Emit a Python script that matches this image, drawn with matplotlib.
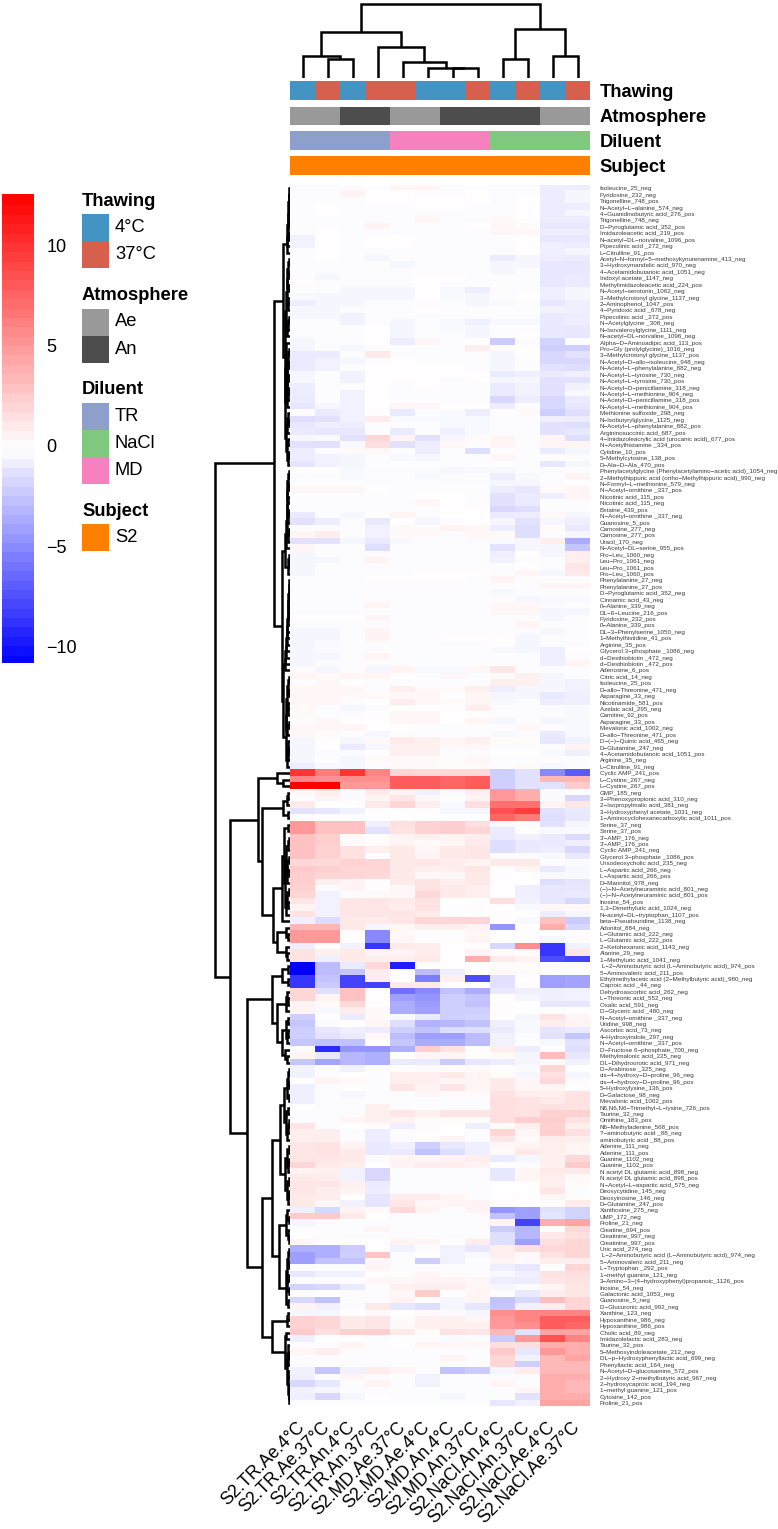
import numpy as np
import matplotlib
matplotlib.use('Agg')
import matplotlib.pyplot as plt
from matplotlib.colors import LinearSegmentedColormap, Normalize, ListedColormap
from matplotlib.cm import ScalarMappable
from matplotlib.patches import Rectangle

plt.rcParams['font.family'] = ['Liberation Sans', 'DejaVu Sans']

W, H = 778, 1529

col_labels = ['S2.TR.Ae.4°C', 'S2.TR.Ae.37°C', 'S2.TR.An.4°C', 'S2.TR.An.37°C',
              'S2.MD.Ae.37°C', 'S2.MD.Ae.4°C', 'S2.MD.An.4°C', 'S2.MD.An.37°C',
              'S2.NaCl.An.4°C', 'S2.NaCl.An.37°C', 'S2.NaCl.Ae.4°C', 'S2.NaCl.Ae.37°C']
thawing = ['4°C', '37°C', '4°C', '37°C', '37°C', '4°C', '4°C', '37°C', '4°C', '37°C', '4°C', '37°C']
atmosphere = ['Ae', 'Ae', 'An', 'An', 'Ae', 'Ae', 'An', 'An', 'An', 'An', 'Ae', 'Ae']
diluent = ['TR'] * 4 + ['MD'] * 4 + ['NaCl'] * 4
subject = ['S2'] * 12

thawing_colors = {'4°C': '#4393C3', '37°C': '#D6604D'}
atmosphere_colors = {'Ae': '#999999', 'An': '#4D4D4D'}
diluent_colors = {'TR': '#8DA0CB', 'NaCl': '#7FC97F', 'MD': '#F781BF'}
subject_colors = {'S2': '#FF7F00'}

row_labels = """Isoleucine_25_neg
Pyridoxine_232_neg
Trigonelline_748_pos
N-Acetyl-L-alanine_574_neg
4-Guanidinobutyric acid_276_pos
Trigonelline_748_neg
D-Pyroglutamic acid_352_pos
Imidazoleacetic acid_219_pos
N-acetyl-DL-norvaline_1096_pos
Pipecolinic acid _272_neg
L-Citrulline_91_pos
Acetyl-N-formyl-5-methoxykynurenamine_413_neg
3-Hydroxymandelic acid_970_neg
4-Acetamidobutanoic acid_1051_neg
Indoxyl acetate_1147_neg
Methylimidazoleacetic acid_224_pos
N-Acetyl-serotonin_1062_neg
3-Methylcrotonyl glycine_1137_neg
2-Aminophenol_1047_pos
4-Pyridoxic acid _678_neg
Pipecolinic acid _272_pos
N-Acetylglycine _308_neg
N-Isovaleroylglycine_1111_neg
N-acetyl-DL-norvaline_1096_neg
Alpha-D-Aminoadipic acid_113_pos
Pro-Gly (prolylglycine)_1016_neg
3-Methylcrotonyl glycine_1137_pos
N-Acetyl-D-allo-isoleucine_948_neg
N-Acetyl-L-phenylalanine_882_neg
N-Acetyl-L-tyrosine_730_neg
N-Acetyl-L-tyrosine_730_pos
N-Acetyl-D-penicillamine_318_neg
N-Acetyl-L-methionine_904_neg
N-Acetyl-D-penicillamine_318_pos
N-Acetyl-L-methionine_904_pos
Methionine sulfoxide_298_neg
N-Isobutyrylglycine_1125_neg
N-Acetyl-L-phenylalanine_882_pos
Argininosuccinic acid_687_pos
4-Imidazoleacrylic acid (urocanic acid)_677_pos
N-Acetylhistamine _334_pos
Cytidine_10_pos
5-Methylcytosine_138_pos
D-Ala-D-Ala_470_pos
Phenylacetylglycine (Phenylacetylamino-acetic acid)_1054_neg
2-Methylhippuric acid (ortho-Methylhippuric acid)_990_neg
N-Formyl-L-methionine_579_neg
N-Acetyl-ornithine _337_pos
Nicotinic acid_115_pos
Nicotinic acid_115_neg
Betaine_439_pos
N-Acetyl-ornithine _337_neg
Guanosine_5_pos
Carnosine_277_neg
Carnosine_277_pos
Uracil_170_neg
N-Acetyl-DL-serine_955_pos
Pro-Leu_1060_neg
Leu-Pro_1061_neg
Leu-Pro_1061_pos
Pro-Leu_1060_pos
Phenylalanine_27_neg
Phenylalanine_27_pos
D-Pyroglutamic acid_352_neg
Cinnamic acid_43_neg
ß-Alanine_339_neg
DL-ß-Leucine_216_pos
Pyridoxine_232_pos
ß-Alanine_339_pos
DL-3-Phenylserine_1050_neg
1-Methylhistidine_41_pos
Arginine_35_pos
Glycerol 3-phosphate _1086_neg
d-Desthiobiotin _472_neg
d-Desthiobiotin _472_pos
Adenosine_6_pos
Citric acid_14_neg
Isoleucine_25_pos
D-allo-Threonine_471_neg
Asparagine_33_neg
Nicotinamide_581_pos
Azelaic acid_295_neg
Carnitine_92_pos
Asparagine_33_pos
Mevalonic acid_1002_neg
D-allo-Threonine_471_pos
D-(-)-Quinic acid_465_neg
D-Glutamine_247_neg
4-Acetamidobutanoic acid_1051_pos
Arginine_35_neg
L-Citrulline_91_neg
Cyclic AMP_241_pos
L-Cystine_267_neg
L-Cystine_267_pos
GMP_185_neg
3-Phenoxypropionic acid_310_neg
2-Isopropylmalic acid_381_neg
3-Hydroxyphenyl acetate_1031_neg
1-Aminocyclohexanecarboxylic acid_1011_pos
Serine_37_neg
Serine_37_pos
3'-AMP_176_neg
3'-AMP_176_pos
Cyclic AMP_241_neg
Glycerol 3-phosphate _1086_pos
Ursodeoxycholic acid_235_neg
L-Aspartic acid_266_neg
L-Aspartic acid_266_pos
D-Mannitol_978_neg
(-)-N-Acetylneuraminic acid_801_neg
(-)-N-Acetylneuraminic acid_801_pos
Inosine_54_pos
1,3-Dimethyluric acid_1024_neg
N-acetyl-DL-tryptophan_1107_pos
beta-Pseudouridine_1138_neg
Adonitol_884_neg
L-Glutamic acid_222_neg
L-Glutamic acid_222_pos
2-Ketohexanoic acid_1143_neg
Alanine_29_neg
1-Methyluric acid_1041_neg
 L-2-Aminobutyric acid (L-Aminobutyric acid)_974_pos
5-Aminovaleric acid_211_pos
Ethylmethylacetic acid (2-Methylbutyric acid)_980_neg
Caproic acid _44_neg
Dehydroascorbic acid_262_neg
L-Threonic acid_552_neg
Oxalic acid_591_neg
D-Glyceric acid _480_neg
N-Acetyl-ornithine _337_neg
Uridine_998_neg
Ascorbic acid_73_neg
4-Hydroxyindole_297_neg
N-Acetyl-ornithine _337_pos
D-Fructose 6-phosphate_700_neg
Methylmalonic acid_225_neg
DL-Dihydroorotic acid_971_neg
D-Arabinose _325_neg
cis-4-hydroxy-D-proline_96_neg
cis-4-hydroxy-D-proline_96_pos
5-Hydroxylysine_136_pos
D-Galactose_98_neg
Mevalonic acid_1002_pos
N6,N6,N6-Trimethyl-L-lysine_726_pos
Taurine_32_neg
Ornithine_183_pos
N6-Methyladenine_568_pos
?-aminobutyric acid _88_neg
aminobutyric acid _88_pos
Adenine_111_neg
Adenine_111_pos
Guanine_1102_neg
Guanine_1102_pos
N acetyl DL glutamic acid_898_neg
N acetyl DL glutamic acid_898_pos
N-Acetyl-L-aspartic acid_575_neg
Deoxycytidine_145_neg
Deoxyinosine_146_neg
D-Glutamine_247_pos
Xanthosine_275_neg
UMP_172_neg
Proline_21_neg
Creatine_694_pos
Creatinine_997_neg
Creatinine_997_pos
Uric acid_274_neg
 L-2-Aminobutyric acid (L-Aminobutyric acid)_974_neg
5-Aminovaleric acid_211_neg
L-Tryptophan _292_pos
1-methyl guanine_121_neg
3-Amino-3-(4-hydroxyphenyl)propanoic_1126_pos
Inosine_54_neg
Galactonic acid_1053_neg
Guanosine_5_neg
D-Glucuronic acid_992_neg
Xanthine_123_neg
Hypoxanthine_986_neg
Hypoxanthine_986_pos
Cholic acid_89_neg
Imidazolelactic acid_283_neg
Taurine_32_pos
5-Methoxyindoleacetate_212_neg
DL-p-Hydroxyphenyllactic acid_699_neg
Phenyllactic acid_164_neg
N-Acetyl-D-glucosamine_572_pos
2-Hydroxy 2-methylbutyric acid_967_neg
2-hydroxycaproic acid_194_neg
1-methyl guanine_121_pos
Cytosine_142_pos
Proline_21_pos""".split('\n')

values_a = [
 [-.1,-.1,-.1,-.1,.5,.5,-.1,-.1,-.1,-.1,-.7,-.7],
 [-.1,-.1,.6,.1,.1,-.1,-.1,.1,-.1,-.1,-.7,-.4],
 [-.1,-.1,-.1,.1,.1,.1,.1,.1,-.1,.1,-.7,-.4],
 [-.1,.1,-.1,-.1,-.1,.1,.1,-.1,-.1,.1,-.7,-.7],
 [-.1,.1,-.1,-.1,-.1,-.1,-.1,-.1,-.1,.1,-.7,-.4],
 [-.1,-.1,-.1,-.1,-.1,.5,-.1,-.1,.3,.1,-.7,-.7],
 [-.1,-.1,-.1,.6,-.1,-.1,-.1,.1,.4,.3,-1.,-1.],
 [-.1,.1,-.1,-.1,-.1,-.1,-.1,-.1,.4,.4,-.7,-.7],
 [-.5,.1,-.1,.1,.1,-.1,-.1,-.1,-.1,.1,-1.,-1.],
 [-.5,.1,-.1,.1,.1,-.1,-.1,-.1,-.1,.1,-.6,-.7],
 [-.1,.1,-.1,-.1,-.1,-.1,-.1,-.1,-.1,.1,-.6,-.4],
 [-.1,.1,-.1,-.4,-.1,-.1,-.1,-.1,-.8,-.4,-.7,-.8],
 [-.1,-.1,-.1,-.1,-.4,-.1,-.1,-.1,-.4,-.4,-1.,-1.],
 [-.1,-.1,-.1,-.1,-.1,-.1,-.1,-.1,-.4,-.1,-1.,-1.],
 [-.1,-.4,-.1,-.1,-.1,.1,.1,-.1,-.1,-.1,-1.,-.8],
 [.1,-.1,-.1,-.1,-.1,.1,-.1,-.1,-.1,-.1,-1.,-.8],
 [-.1,-.1,-.4,-.4,-.4,.1,-.3,-.7,-.1,-.1,-.6,-.4],
 [-.3,-.4,-.4,-.4,-.4,.1,-.3,-.4,-.1,.1,-.6,-.4],
 [-.7,-.4,-.4,-.1,-.1,-.1,-.1,-.4,-.3,-.1,-1.,-.6],
 [-.4,-.4,-.1,-.1,-.1,.1,-.1,-.1,-.1,-.1,-.5,-.6],
 [-.4,-.4,-.5,-.1,-.1,-.1,-.1,-.1,-.1,-.1,-.9,-.7],
 [-.1,-.1,-.5,-.1,-.4,-.1,-.3,-.6,-.3,-.3,-.9,-.7],
 [-.1,-.1,-.1,.1,-.4,-.1,-.3,-.4,-.1,-.1,-.9,-1.],
 [-.1,-.1,-.1,.1,-.4,-.1,-.1,-.4,-.1,.1,-.9,-1.],
 [-.4,-.1,-.1,.1,-.7,.5,-.1,.1,-2.2,-.1,-1.8,-.1],
 [-.4,-.1,-.4,-.1,-.1,-.1,-.1,.8,-.1,.1,-2.,-2.],
 [-.8,-.8,-.1,1.,-.1,-.1,-.1,-.1,-.4,.1,-1.6,-1.2],
 [-.8,-.5,-.4,-.1,.1,-.1,-.1,-.1,-.4,-.1,-1.6,-1.6],
 [-.8,-.5,-.1,.1,.1,.1,.1,-.1,-.4,-.1,-1.2,-1.4],
 [-.4,-.1,-.5,.1,.1,.1,.1,.1,-.8,-.6,-.8,-.6],
 [-.4,-.1,-.5,.1,.1,.1,-.1,.1,-.4,-.4,-1.2,-1.2],
 [-.7,-.1,-.1,.1,-.1,.1,-.1,-.1,-.8,-.5,-1.2,-.5],
 [-.7,-.1,-.5,.1,-.1,-.1,-.1,-.1,-.8,-.5,-1.2,-.3],
 [-.8,-.1,-.5,.1,-.1,-.1,-.1,-.1,-1.6,-.7,-1.6,-.8],
 [-1.,-.4,-.5,.1,.4,.4,.1,.1,-.7,-.1,-1.6,-1.],
 [-.1,-.8,-.5,.1,-.8,-.1,-.3,-.7,.1,.3,-2.,-1.4],
 [-1.4,-1.2,-.5,.9,-.3,-.3,-.3,-.3,-.1,-.1,-.6,-.7],
 [-1.,-.6,-.7,-.1,-.1,-.1,-.3,-.3,-.1,-.1,-1.2,-1.4],
 [-.8,-1.,-1.,-.1,-.8,-.1,-.6,-.3,-.1,-.1,-1.2,-1.],
 [-.4,-.3,-1.2,2.,.6,-1.2,-.4,.3,.5,-.1,.5,-1.4],
 [-1.2,-1.2,-.3,1.6,-1.2,-.7,.4,-.1,.5,-.1,.5,.5],
 [-.7,-.1,.3,.4,-.1,-.7,-.1,-1.4,-.1,-.1,-.8,-.4],
 [-.7,-.5,-.4,-.1,-.3,-.4,-.1,-.1,.4,-.1,-.1,-.1],
 [-1.1,-.5,-.4,-.1,-.1,-.1,-.1,-.1,-.1,-.1,-1.,-.4],
 [.1,.1,-.3,-.2,-.2,-.2,-.4,-.3,-.3,-.1,-.2,-.1],
 [-.1,-.1,-.3,-.1,-.1,-.3,-.1,-.1,-.7,-.3,-.1,.6],
 [-.1,-.1,-.1,-.1,-.1,-.1,-.2,-.2,-.4,-.4,-.1,.1],
 [.4,.4,.4,.1,-.1,-.1,-.1,-.1,-.7,-1.,.3,.5],
 [-.1,-.1,-.1,-.1,-.1,.1,.1,-.1,-1.2,-.8,-.6,.5],
 [-.1,-.1,-.1,-.1,-.1,.4,.1,-.1,-1.2,-.8,-.1,-.1],
 [-.1,-.1,-.1,-.1,-.1,-.1,.1,.1,-1.6,-1.4,-.1,-.1],
 [-.9,-.1,-.4,.1,.5,-.1,.1,.1,-.8,-.7,.3,-.4],
 [-1.2,-.7,-.1,-.9,.1,-.4,-.1,.1,-.4,-1.2,-.4,-.6],
 [-.1,-.1,-.1,-.5,.3,.3,.6,.4,-.7,-1.4,.3,-.9],
 [.5,.9,-.1,-.5,.3,.3,-.1,.4,.3,-1.4,-.1,-.4],
 [-1.2,-1.2,-.4,-.9,-.3,-.1,-.1,-.2,-.2,-.4,.8,-3.5],
 [.5,-.1,-.1,-1.4,-.1,-.1,-.1,-.1,-1.2,-.4,-.4,-2.4],
 [-.4,-.1,-.1,-.1,-.1,-.1,-.1,-.1,-.6,.1,-.4,.8],
 [-.4,-.4,-.1,.6,-.1,-.1,-.1,-.1,-.5,-.1,-.1,.8],
 [-.4,-.1,-.1,-.1,-.1,-.1,-.1,-.1,-.1,.1,-.1,1.2],
 [-.4,-.1,-.1,-.1,-.1,.1,.1,.1,-.1,.5,-.4,1.],
 [-.1,-.1,-.1,.1,.1,.1,.1,-.1,.6,-.1,-.1,-.1],
 [-.1,-.1,-.1,-.1,-.1,-.1,-.1,-.1,-.1,-.1,.5,.5],
 [-.1,-.1,-.1,-.1,-.1,-.1,-.1,-.1,-.3,-.1,-.1,-.1],
 [-.1,-.1,-.1,-.1,-.1,-.1,-.1,-.1,-.1,-.4,-.3,-.3],
 [-.1,-.1,-.1,.5,-.1,-.1,-.1,-.1,.4,.4,-.2,-.1],
 [-.1,-.1,-.1,-.1,-.1,-.1,-.1,-.1,.4,.4,-.4,-.4],
 [.1,.1,.1,.5,-.1,-.1,-.1,-.1,-.1,-.1,-.4,-.1],
 [-.1,-.1,-.1,-.1,-.1,-.1,-.1,-.1,-.1,.5,-.1,-.1],
 [-.4,-.4,-.1,.6,-.1,-.1,-.1,-.1,-.1,-.1,-.4,-.1],
 [-.4,-.4,-.1,.6,-.1,-.1,.1,.1,.1,-.4,-.1,-.1],
 [-.4,-.2,-.1,-.1,-.1,-.1,-.1,-.1,.1,-.4,-.1,-.1],
 [-.4,-.2,-.1,-.1,-.1,-.1,-.1,-.1,-.3,-.4,-.6,.1],
 [-.4,-.4,-.1,.5,-.1,-.1,-.1,-.1,-.1,-.1,-.6,-.1],
 [-.4,-.1,-.1,-.1,-.1,-.1,-.1,-.1,-.1,-.1,-.6,.5],
 [.2,-.4,-.1,-.4,.6,-.3,-.3,.4,1.2,-.1,-.1,-.1],
 [.5,.3,.5,.5,.1,-.1,.4,-.1,.2,.7,-.4,-.1],
 [-.1,.4,.1,-.1,-.1,-.1,-.1,-.1,.7,.7,-.4,-.5],
 [.4,.4,.4,-.1,.8,.3,.3,.7,-.7,-.4,-.4,-.5],
 [.4,.4,.3,.3,.4,.4,.1,.5,-.4,-.4,-.9,-.6],
 [.4,.4,-.1,.1,.9,.4,.3,.5,-.3,-.1,-.7,-.6],
 [.3,-.1,-.4,-.1,.1,.1,.1,.8,-.1,-.1,-.2,-.3],
 [.3,-.1,-.1,.1,.4,.4,.1,.1,-.1,-.1,-.1,-.3],
 [-.1,.4,.1,.1,.4,.4,.1,.5,-.4,-.1,-.4,-.3],
 [.4,.4,.4,.1,.1,-.1,-.1,-.1,-.1,.4,-.1,-.3],
 [.4,.3,-.1,-.4,-.1,-.1,-.1,-.1,-.3,-.2,-.8,-.3],
 [-.4,.1,-.4,.3,1.,.7,.5,.7,.2,.2,-1.,-.5],
 [-.4,.1,-.8,-.4,.7,.7,.3,.4,-.1,-.1,-.1,.6],
 [-.4,-.2,-.2,.1,.7,.7,-.1,-.1,.1,.1,-.3,-.6],
 [-.4,-.1,-.4,.3,.3,.3,.2,.4,-.1,-.1,-.1,-.1],
 [-.7,-.3,-.4,-.1,.3,.3,.2,.3,-.1,.3,-.3,-.1],
]

values_b = [
 [10,6.5,10,6,2,1.8,1.8,1.8,-2,-1.2,-5,-7],
 [6,5.5,5.5,5.5,8,8,7.5,8,-2,-1.2,3.5,3.5],
 [12.6,12.6,5,5,8,8,7.5,8,-2,-1.2,-1.2,2.5],
 [.4,.8,-.2,1,.6,-.5,-.2,.8,5,4,-.2,.1],
 [-.1,.6,-.2,.6,1.2,.4,.1,.6,5,4,-.2,-1.6],
 [1,.1,.1,1,2,.8,-.3,1.6,7,7,.6,1.2],
 [-1.2,-1,-.5,.1,.1,.1,-.4,-.4,8.5,9.5,-1.2,-.9],
 [-.1,-.1,-.1,.1,.1,.1,.1,.1,7.5,6.5,-1.4,-1],
 [5,3,3,-.6,1.6,2.2,2.4,1.6,-.3,-.1,-1.2,-.4],
 [5,3,3,-1.2,1.4,2.2,2.4,2,-.8,.1,-.3,-.2],
 [3,2.4,.2,.2,.6,.8,.5,.9,-.8,-.5,-.8,-1.5],
 [3,2.4,.3,.2,.6,.2,.5,1,-1.4,-.9,-.9,-.6],
 [3,2.2,1.5,.8,1,.4,1,1.2,-1.4,-.9,-.7,-1.6],
 [3,2.2,1.5,.1,1,.6,1,1.2,-.1,-.1,-.3,-.9],
 [1.8,1.8,2.2,2,1,1.2,.9,.5,1,1,-.1,-.2],
 [2.6,2.4,2,2,1,.8,.8,1.2,.1,.5,-.9,-.3],
 [2.4,2,2,1.8,1,.4,.4,1,.1,.1,-.3,-.3],
 [2.4,.7,.5,.1,1,1.4,.8,1,.1,.1,-1.4,-1.1],
 [2.2,-.2,.6,.1,.4,1.4,1,.8,.1,-.6,-1,-1],
 [2,-.5,-.1,.3,.4,1.8,1,.8,.1,-.6,-1,-.9],
 [1.2,-.5,1.2,1.2,1,1.4,0,.1,1.6,-.5,-1,-1.6],
 [.6,-.5,1.2,1.2,.9,1.4,0,.1,.1,-.3,.4,.3],
 [1.4,-.5,1.2,1.2,1.3,1,0,0,.1,.1,-.7,-.4],
 [-.6,-1.5,1,1,1.2,2,2,2,.1,-.3,3,-2.2],
 [3.5,3.5,1,-.4,.4,.8,.8,.6,-4.5,.1,4,-1.6],
 [5,5,.1,-5,.3,.1,.1,.4,.1,.1,.1,.1],
 [5,5,.1,-5,.4,.1,.1,.5,.1,.1,-.4,-.1],
 [-.6,.1,-.5,-8.5,1,.8,.1,.1,-1.6,5.5,-8.5,-.5],
 [1.4,.7,1,.6,.6,.9,.1,.6,.2,.2,-8.5,1.2],
 [1.4,-.6,1,.8,.8,1,.1,4,1,.6,-7.5,-8],
 [-10.85,-2.8,-.8,1.8,-9.5,.1,.1,.1,.2,.2,.1,.1],
 [-10.85,-2.8,-2.5,.9,.1,-2.8,-.6,.1,.3,.3,.1,.1],
 [-8.5,-2.5,-8,.8,.1,-5.5,.7,-7.5,-1.2,.1,-4,-3.8],
 [-8.5,-2.2,-8,-8,1,1,.1,.1,-1.2,-.1,-4,-3.8],
 [2,-1.4,3,.1,-6,-5,-2.6,-3.5,-.9,-.6,-.6,-.5],
 [2,.6,3,.1,-4,-4.5,-2,-2.5,.1,-.4,-.6,-.5],
 [.6,.3,1.8,.1,-3.5,-4.2,-2,-2.6,.1,.1,-1,-1],
 [.6,-.3,.9,.3,-3.5,-4,-2,-2,.1,.1,.1,.1],
 [-2,.1,-.8,.3,-.3,-.9,-2,-1.8,.1,-.4,1.4,.5],
 [-2.4,-.2,.1,.5,-1.4,-3.2,-3,-2.6,-.6,-.3,.8,.6],
 [-2,-1,-.6,-.7,-2,-2.6,-1.4,-1.4,-.8,-.3,-1.1,-.8],
 [-2,-1.2,-.8,.4,-2.8,-4,-4,-2.8,-.5,-.1,-1.2,-2.4],
 [-2.4,-2.6,-2.6,.1,-2.4,-3.6,-3.6,-2.8,-.5,-.1,-.3,-1.2],
 [-.1,-9,-4.5,-4.5,-3.4,2.4,1.4,.1,.8,-.7,.1,-1.4],
 [.5,-1,-3,-3.4,.1,.5,.5,0,.3,-.4,3.2,-1],
 [-2.4,-3.8,-3,-3.4,-.8,-.8,-2.2,-1,-.7,-.4,.2,-.5],
 [-.5,-.1,-.5,-.1,.1,-.1,.2,.3,.1,-.2,2,0],
 [-.5,-.1,.1,-.1,.8,.8,1,.5,.2,-.4,1.5,-.4],
 [.1,.6,.3,-.1,.8,.8,.5,.5,1,.4,1.8,-.1],
 [-.6,-.1,.1,-.1,1.2,.6,1.2,.5,1,.5,.5,.1],
 [-.6,-.1,-.4,-.1,-.1,.4,.3,.2,1.4,.8,.8,1.4],
 [-.6,-.1,-.1,-.1,-.1,-.1,-.1,-.1,1.6,1.4,1,1.4],
 [0,-.1,-.1,.7,-.1,-.1,-.1,-.1,1.6,1.4,1.5,1.4],
 [-.1,-.1,-.1,.7,1.2,.7,1.2,1.2,1.6,1.4,2.2,2.2],
 [-.1,-.1,.5,.7,.6,.2,.2,.2,1.6,2.4,2.4,1.4],
 [1.2,-.1,.1,.2,-.6,-.1,.1,-.6,.2,.8,2.2,.8],
 [.8,.8,-.1,-.7,-.1,.1,0,-.1,2,.4,2.4,1.6],
 [.8,.8,-.1,-.7,-.2,-.1,.6,-.1,1.2,.3,.9,.8],
 [1.2,1.4,.6,-.9,-.6,-2,-1,-.6,.4,.6,.8,.5],
 [1.2,1.4,1,-.9,-.9,-2.6,-1.4,-.6,.3,1.1,.8,.5],
 [1.2,1.2,1,-.2,.6,.5,.6,.8,-.8,-.4,.7,1.8],
 [2,1,.9,.1,.6,.9,.9,.6,.1,-.1,.7,2.6],
 [.6,.7,-.5,-1.6,-.1,-.1,-.1,-.1,-1,.5,1,1],
 [1,.9,-.5,-1.6,-.1,-.1,-.1,-.1,-1,.5,.8,.3],
 [1.2,1.2,.7,-.8,-.1,-.1,-.1,-.1,0,.1,.7,.2],
 [1.2,.9,.6,-.7,-.1,-.1,-.1,-.1,0,0,1.2,-.1],
 [1,.9,.1,-1.1,.9,.9,.5,-.1,.1,.1,.5,.2],
 [1,.4,-.5,-1.1,1.2,.4,.5,.6,-.1,.1,.1,.9],
 [-.6,-1.6,.6,.3,1.8,.6,-.1,.6,-4.5,-4,-1.3,-1.8],
 [2.6,2.6,1,.1,-.1,-.1,-.1,-.1,-2.6,-4,-1.1,-1.8],
 [-.4,-.1,-.1,-.1,-.1,-.1,-.1,-.1,.6,-8,4,4.5],
 [-.1,-.1,-.1,.5,-.1,-.1,-.1,-.1,-2.2,-3,.1,1.8],
 [0,-.1,-.1,-.1,-.1,-.1,-.1,-.1,-1.4,-3,1.1,1.6],
 [.5,-.1,.1,.1,.6,.5,.1,.9,-1.4,-4,1.6,2],
 [-3.4,-3.4,-2.2,.1,-.5,-.1,-.5,-1,.8,1.6,1.8,2],
 [-4,-3.4,-2,2.8,-.1,0,-.5,-.3,.8,.3,1.4,2],
 [-4,-2.6,-2.6,.4,-.1,-2,-.5,-.1,.5,.3,.8,.8],
 [-.1,-.1,-.1,.5,-.1,-.1,-.1,-.1,-.6,-1,.1,2],
 [-1,-.5,-.5,.1,.2,.5,.2,-.1,-.3,-.6,1.4,1.6],
 [-.2,-.2,-.1,.4,.4,.6,.6,.4,-.7,-.7,1.2,1.4],
 [-1.8,-1.6,-.8,-.1,.7,.8,.8,.5,-.4,-.1,.5,1.2],
 [-.1,.1,-.1,-.1,.4,2.5,.1,.5,-.1,-.9,.9,1.2],
 [-1.6,-2.6,-.1,-.1,.6,.1,-.4,.5,-2.6,-1.6,3.2,2],
 [.6,-.5,-.2,1,-1,-1.4,-.4,-1,-2.4,-.5,.8,2],
 [-.4,-.4,.1,.3,.1,.3,-.1,-.4,5.5,6,6,6],
 [2.2,2,1,1.2,.2,.7,.7,.4,5,6,8,8],
 [2.2,2,1,1.2,.3,.7,.7,.7,5,5.5,8,7.5],
 [2.6,1.6,2.4,2.4,1,.2,1.4,1.2,3.5,-1.2,4.5,4.5],
 [-.6,0,.1,-.1,0,-.1,-.2,-.1,-2.2,5,8.5,6],
 [-.1,-.1,.5,-.1,.1,.5,.4,.4,1.6,1.6,4,4],
 [.5,.8,.2,-.1,-.1,-.1,-.1,-.1,2.6,-1,5,4],
 [-.1,-.1,-.1,-.1,-.1,-.1,.6,-.1,2,-.5,3.5,4.5],
 [-.1,-.1,-.1,-.1,-.1,-.1,-.1,-.1,2,-2,3.5,3.5],
 [-.5,-2.4,-.5,.9,.5,-.1,-2.6,-2.2,-.4,.9,3.5,3.5],
 [-.6,-.1,.5,-.1,-.1,-.5,-.1,-.1,-.1,-.1,4,4],
 [-1.6,-1,-.1,.6,-.1,-.5,-.1,-.1,.4,-.1,4,3.5],
 [-.5,-.4,-.1,-.1,-.1,-.1,-.1,-.1,-.1,.5,4,3.5],
 [-.6,-1.6,-.4,.1,-.1,-.1,-.4,-.1,-.1,-1.2,4,4],
 [-.1,-.1,-.1,-.1,-.1,-.1,-.1,-.1,-1,-.5,4.5,4.5],
]

# merge distance between each pair of neighbouring rows / columns (dendrogram heights)
row_gap_height = [
 1.2,1.0,1.5,1.0,1.6,1.2,2.2,1.4,2.8,3.4, 7.0,
 1.5,2.0,1.2,2.6,1.4,3.0,1.6,2.0,3.6,1.3,2.4,3.0, 5.0, 3.6,
 1.2,2.0,1.4,2.6,1.2,3.0,1.5,2.2,3.2, 4.6, 1.8,1.2,2.8, 4.2, 2.0,3.0,1.4,2.4, 16.0,
 1.5,2.2,1.2,2.8,1.6,3.0,1.3,2.0,3.4,1.5,2.4,3.8, 5.4, 1.5,1.2,2.2, 8.3,
 1.0,1.2,1.4,1.6,1.9,2.2,2.5,2.8,3.1,3.5,3.9,4.3,4.8,5.4, 7.0,
 1.2,2.4,1.4,3.0,1.6,2.2,3.6,1.4,2.6, 4.2, 1.6,1.2,2.4,3.0, 75.0,
 13.0,7.0,32.5, 2.0,3.0,6.7,2.5, 28.0, 2.0,6.0,
 1.5,2.5,4.2,1.5,2.8,1.2,3.4,5.0,1.2,3.0,1.8,3.6, 8.3, 17.0,
 4.0,2.0,13.0,4.0,3.0, 60.0,
 2.5,8.0,2.5, 18.0, 3.0,2.0,4.5, 13.0, 2.5,4.0,2.0,3.0, 8.0,5.0,3.0, 43.3,
 1.2,2.0,1.4,2.6,1.2,6.0,1.6,3.6,1.4,2.2,3.0, 10.0,
 1.4,3.4,1.2,2.4,4.6,1.5,2.8,1.2,2.0, 18.3,
 3.0,1.5,4.5,2.0,1.2, 10.7,
 1.4,2.4,1.2,3.0,1.5,2.6,1.2,3.6,2.0, 28.3,
 1.6,3.5, 18.3,
 4.0,5.5,2.4,1.4,1.8,3.0,1.6,2.0,1.2,1.4,1.0,
]
col_gap_height = [22.0, 18.7, 45.7, 31.3, 16.3, 10.2, 10.0, 74.3, 18.7, 49.0, 22.0]

vmin, vmax = -10.85, 12.6
cbar_ticks = [-10, -5, 0, 5, 10]


def px_axes(x0, y0, x1, y1):
    return fig.add_axes([x0 / W, 1 - y1 / H, (x1 - x0) / W, (y1 - y0) / H])


def draw_tree(gaps, lo, hi, segs):
    """Draw the subtree over leaves lo..hi; returns (centre, height)."""
    if lo == hi:
        return float(lo), 0.0
    sub = gaps[lo:hi]
    k = lo + int(np.argmax(sub))
    h = gaps[k]
    c1, h1 = draw_tree(gaps, lo, k, segs)
    c2, h2 = draw_tree(gaps, k + 1, hi, segs)
    segs.append(((c1, h1), (c1, h), (c2, h), (c2, h2)))
    return (c1 + c2) / 2, h


fig = plt.figure(figsize=(W / 100, H / 100), dpi=100)
fig.patch.set_facecolor('white')

values = np.array(values_a + values_b, dtype=float)
cmap = LinearSegmentedColormap.from_list(
    'bwr50', [(0, '#0000FF'), (-vmin / (vmax - vmin), '#FFFFFF'), (1, '#FF0000')], N=256)
norm = Normalize(vmin, vmax)

HM = (290, 185, 590, 1406.5)
ax = px_axes(*HM)
ax.imshow(values, cmap=cmap, norm=norm, aspect='auto', interpolation='nearest')
ax.set_xticks(range(12))
ax.set_xticklabels(col_labels, rotation=45, ha='right', va='center',
                   rotation_mode='anchor', fontsize=12.7)
ax.yaxis.tick_right()
ax.set_yticks(range(len(row_labels)))
ax.set_yticklabels([s.replace('-', '\u2212') for s in row_labels], fontsize=4.5, color='#3a3a3a')
ax.tick_params(axis='both', length=0)
ax.tick_params(axis='x', pad=13)
ax.tick_params(axis='y', pad=7)
for s in ax.spines.values():
    s.set_visible(False)

# column dendrogram
axc = px_axes(290, 2, 590, 78)
segs = []
draw_tree(col_gap_height, 0, 11, segs)
for seg in segs:
    xs, ys = zip(*seg)
    axc.plot(xs, ys, color='black', lw=1.8, solid_joinstyle='miter', solid_capstyle='butt')
axc.set_xlim(-.5, 11.5)
axc.set_ylim(0, 76.0)
axc.axis('off')

# row dendrogram
axr = px_axes(212, 185, 290, 1406.5)
segs = []
draw_tree(row_gap_height, 0, len(row_labels) - 1, segs)
for seg in segs:
    ys, xs = zip(*seg)
    axr.plot(xs, ys, color='black', lw=1.8, solid_joinstyle='miter', solid_capstyle='butt')
axr.set_xlim(78, 0)
axr.set_ylim(len(row_labels) - .5, -.5)
axr.axis('off')

# annotation strips
strips = [('Thawing', thawing, thawing_colors, 81, 100),
          ('Atmosphere', atmosphere, atmosphere_colors, 106.5, 125.5),
          ('Diluent', diluent, diluent_colors, 131, 150),
          ('Subject', subject, subject_colors, 156, 175)]
for name, cats, colors, y0, y1 in strips:
    a = px_axes(290, y0, 590, y1)
    keys = list(colors)
    a.imshow([[keys.index(c) for c in cats]], cmap=ListedColormap([colors[k] for k in keys]),
             vmin=-.5, vmax=len(keys) - .5, aspect='auto', interpolation='nearest')
    a.set_xticks([])
    a.yaxis.tick_right()
    a.set_yticks([0])
    a.set_yticklabels([name], fontsize=13.2, fontweight='bold')
    a.tick_params(axis='y', length=0, pad=7)
    for s in a.spines.values():
        s.set_visible(False)

# colour bar
cax = px_axes(2, 194, 34, 663)
sm = ScalarMappable(norm=norm, cmap=cmap)
cb = fig.colorbar(sm, cax=cax, boundaries=np.linspace(vmin, vmax, 51), ticks=cbar_ticks)
cb.outline.set_visible(False)
cb.solids.set_edgecolor('face')
cb.ax.tick_params(length=0, pad=9, labelsize=13)

# legends
lax = fig.add_axes([0, 0, 1, 1], facecolor='none')
lax.set_xlim(0, W)
lax.set_ylim(H, 0)
lax.axis('off')
legend_blocks = [('Thawing', thawing_colors, ['4°C', '37°C'], 201, 214),
                 ('Atmosphere', atmosphere_colors, ['Ae', 'An'], 296, 308.5),
                 ('Diluent', diluent_colors, ['TR', 'NaCl', 'MD'], 390, 403),
                 ('Subject', subject_colors, ['S2'], 511, 524)]
for title, colors, names, ty, y0 in legend_blocks:
    lax.text(82, ty, title, fontsize=13.2, fontweight='bold', va='center', ha='left')
    for i, n in enumerate(names):
        lax.add_patch(Rectangle((82, y0 + i * 27), 27, 27, facecolor=colors[n], edgecolor='none'))
        lax.text(115, y0 + i * 27 + 13.5, n, fontsize=13.2, va='center', ha='left')

fig.savefig('out.png', dpi=100)
